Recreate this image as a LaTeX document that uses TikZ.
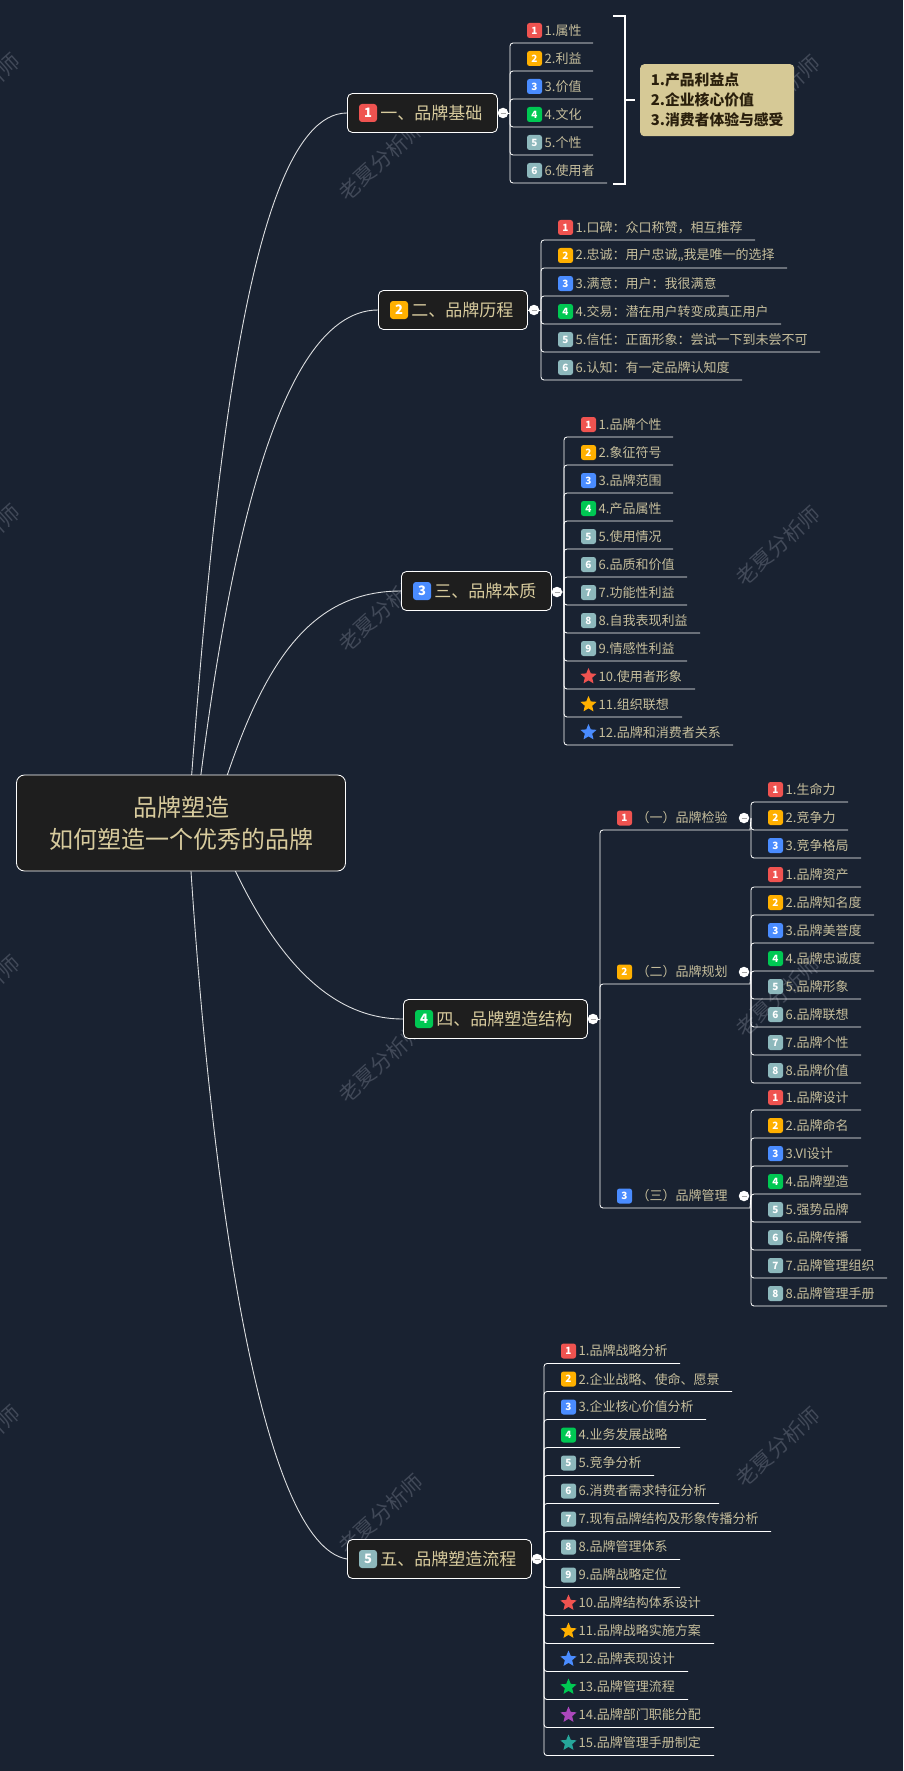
\documentclass[tikz,border=0pt]{standalone}
\usepackage{fontspec}
\setmainfont{Noto Sans CJK SC}
\usetikzlibrary{positioning, shapes.geometric, backgrounds}

\definecolor{navybg}{HTML}{192231}
\definecolor{boxdark}{HTML}{1E1E1E}
\definecolor{tantext}{HTML}{D8CB9D}
\definecolor{leafcol}{HTML}{C6BE9C}
\definecolor{notefill}{HTML}{D6C996}
\definecolor{notetext}{HTML}{2A1F0C}
\definecolor{markcol}{HTML}{414958}
\definecolor{tagred}{HTML}{EF5350}
\definecolor{tagamber}{HTML}{FFB000}
\definecolor{tagblue}{HTML}{4A8CFF}
\definecolor{taggreen}{HTML}{00C853}
\definecolor{tagslate}{HTML}{8DB8BC}
\definecolor{tagpurple}{HTML}{AB47BC}
\definecolor{tagteal}{HTML}{26A69A}

\newcommand{\leafrows}[5]{%
  \coordinate (#1hub) at (#2,#3);
  \foreach \tip/\lab [count=\k] in {#5} {
    \coordinate (#1tip\k) at (\tip, #4+28*\k-28);
    \draw[wire] (#1hub) |- (#1tip\k);
    \node[tag\k] (#1tag\k) at (#2+24.5, #4+28*\k-40.5) {\ifnum\k<10 \k\fi};
    \node[leaftext] (#1lab\k) at (#2+34.5, #4+28*\k-40.5) {\lab};
  }
}

\begin{document}
\begin{tikzpicture}[
    x=1pt, y=-1pt,
    rootbox/.style={draw=white, fill=boxdark, rounded corners=8pt, line width=.85pt, text=tantext, minimum width=329pt, minimum height=96pt, align=center, font=\fontsize{24}{32}\selectfont},
    branchbox/.style={draw=white, fill=boxdark, rounded corners=5pt, line width=.85pt, anchor=west, minimum height=39pt},
    branchtext/.style={text=tantext, inner sep=0pt, font=\fontsize{17}{20}\selectfont},
    bigtag/.style={rounded corners=3pt, minimum size=18pt, inner sep=0pt, text=white, font=\bfseries\fontsize{13}{13}\selectfont},
    numtag/.style={rectangle, rounded corners=2.5pt, minimum size=15pt, inner sep=0pt, text=white, font=\bfseries\fontsize{10}{10}\selectfont},
    startag/.style={star, star points=5, star point ratio=2.2, minimum size=17pt, inner sep=0pt},
    tag1/.style={numtag, fill=tagred},
    tag2/.style={numtag, fill=tagamber},
    tag3/.style={numtag, fill=tagblue},
    tag4/.style={numtag, fill=taggreen},
    tag5/.style={numtag, fill=tagslate},
    tag6/.style={tag5},
    tag7/.style={tag5},
    tag8/.style={tag5},
    tag9/.style={tag5},
    tag10/.style={startag, fill=tagred},
    tag11/.style={startag, fill=tagamber},
    tag12/.style={startag, fill=tagblue},
    tag13/.style={startag, fill=taggreen},
    tag14/.style={startag, fill=tagpurple},
    tag15/.style={startag, fill=tagteal},
    leaftext/.style={anchor=west, text=leafcol, inner sep=0pt, font=\fontsize{13}{16}\selectfont},
    wire/.style={draw=white, line width=.85pt, rounded corners=3pt},
    trunk/.style={draw=white!85!navybg, line width=.9pt},
    toggle/.style={circle, fill=white, minimum size=10.5pt, inner sep=0pt,
      path picture={\draw[black!35, line width=.9pt] ([xshift=-2.5pt]path picture bounding box.center) -- ([xshift=2.5pt]path picture bounding box.center);}},
    bracketline/.style={draw=white, line width=2pt},
    notebox/.style={fill=notefill, rounded corners=4pt, anchor=north west, minimum width=154pt, minimum height=72pt, inner xsep=10pt, inner ysep=0pt, align=left, text=notetext, font=\bfseries\fontsize{14.8}{20}\selectfont},
    watermark/.style={text=markcol, rotate=42, font=\fontsize{21}{21}\selectfont}
  ]
  \useasboundingbox (0,0) rectangle (903,1771);

  \node[rootbox] (root) at (181,823) {品牌塑造\\如何塑造一个优秀的品牌};

  % branch one
  \node[branchbox, minimum width=150pt] (brand1) at (347,113) {};
  \node[bigtag, fill=tagred] (brand1tag) at (368,113) {1};
  \node[branchtext, right=3pt of brand1tag] (brand1lab) {一、品牌基础};
  \leafrows{brand1}{510}{113}{43}{593/1.属性, 593/2.利益, 593/3.价值, 593/4.文化, 593/5.个性, 607/6.使用者}
  \draw[wire] (brand1) -- (brand1hub);
  \node[toggle] (brand1toggle) at (503,113) {};

  \coordinate (brackettop) at (613,16);
  \coordinate (bracketne) at (625,16);
  \coordinate (bracketse) at (625,184);
  \coordinate (bracketbot) at (613,184);
  \coordinate (bracketmid) at (625,100);
  \coordinate (bracketout) at (635,100);
  \draw[bracketline] (brackettop) -- (bracketne) -- (bracketse) -- (bracketbot);
  \draw[bracketline] (bracketmid) -- (bracketout);
  \node[notebox] (note) at (640,64) {1.产品利益点\\2.企业核心价值\\3.消费者体验与感受};

  % branch two
  \node[branchbox, minimum width=149pt] (brand2) at (378,310) {};
  \node[bigtag, fill=tagamber] (brand2tag) at (399,310) {2};
  \node[branchtext, right=3pt of brand2tag] (brand2lab) {二、品牌历程};
  \leafrows{brand2}{541}{310}{240}{755/1.口碑：众口称赞，相互推荐, {787/{2.忠诚：用户忠诚,,我是唯一的选择}}, 729/3.满意：用户：我很满意, 781/4.交易：潜在用户转变成真正用户, 820/5.信任：正面形象：尝试一下到未尝不可, 742/6.认知：有一定品牌认知度}
  \draw[wire] (brand2) -- (brand2hub);
  \node[toggle] (brand2toggle) at (534,310) {};

  % branch three
  \node[branchbox, minimum width=150pt] (brand3) at (401,591) {};
  \node[bigtag, fill=tagblue] (brand3tag) at (422,591) {3};
  \node[branchtext, right=3pt of brand3tag] (brand3lab) {三、品牌本质};
  \leafrows{brand3}{564}{592}{437}{673/1.品牌个性, 673/2.象征符号, 673/3.品牌范围, 673/4.产品属性, 673/5.使用情况, 687/6.品质和价值, 687/7.功能性利益, 700/8.自我表现利益, 687/9.情感性利益, 695/10.使用者形象, 682/11.组织联想, 733/12.品牌和消费者关系}
  \draw[wire] (brand3) -- (brand3hub);
  \node[toggle] (brand3toggle) at (557,592) {};

  % branch four, with three sub branches
  \node[branchbox, minimum width=184pt] (brand4) at (403,1019) {};
  \node[bigtag, fill=taggreen] (brand4tag) at (424,1019) {4};
  \node[branchtext, right=3pt of brand4tag] (brand4lab) {四、品牌塑造结构};
  \coordinate (brand4hub) at (600,1019);
  \draw[wire] (brand4) -- (brand4hub);
  \node[toggle] (brand4toggle) at (593,1019) {};

  \coordinate (check) at (750,830);
  \coordinate (plan) at (750,984);
  \coordinate (manage) at (750,1208);
  \draw[wire] (brand4hub) |- (check);
  \draw[wire] (brand4hub) |- (plan);
  \draw[wire] (brand4hub) |- (manage);

  \node[tag1] (checktag) at (624.5,818) {1};
  \node[leaftext] (checklab) at (636.5,818) {（一）品牌检验};
  \leafrows{check}{751}{818}{802}{848/1.生命力, 848/2.竞争力, 861/3.竞争格局}
  \draw[wire] (check) -- (checkhub);
  \node[toggle] (checktoggle) at (744,818) {};

  \node[tag2] (plantag) at (624.5,972) {2};
  \node[leaftext] (planlab) at (636.5,972) {（二）品牌规划};
  \leafrows{plan}{751}{972}{887}{861/1.品牌资产, 874/2.品牌知名度, 874/3.品牌美誉度, 874/4.品牌忠诚度, 861/5.品牌形象, 861/6.品牌联想, 861/7.品牌个性, 861/8.品牌价值}
  \draw[wire] (plan) -- (planhub);
  \node[toggle] (plantoggle) at (744,972) {};

  \node[tag3] (managetag) at (624.5,1196) {3};
  \node[leaftext] (managelab) at (636.5,1196) {（三）品牌管理};
  \leafrows{manage}{751}{1196}{1110}{861/1.品牌设计, 861/2.品牌命名, 848/3.VI设计, 861/4.品牌塑造, 861/5.强势品牌, 861/6.品牌传播, 887/7.品牌管理组织, 887/8.品牌管理手册}
  \draw[wire] (manage) -- (managehub);
  \node[toggle] (managetoggle) at (744,1196) {};

  % branch five
  \node[branchbox, minimum width=184pt] (brand5) at (347,1559) {};
  \node[bigtag, fill=tagslate] (brand5tag) at (368,1559) {5};
  \node[branchtext, right=3pt of brand5tag] (brand5lab) {五、品牌塑造流程};
  \leafrows{brand5}{544}{1559}{1363.5}{680/1.品牌战略分析, 732/2.企业战略、使命、愿景, 706/3.企业核心价值分析, 680/4.业务发展战略, 654/5.竞争分析, 719/6.消费者需求特征分析, 771/7.现有品牌结构及形象传播分析, 680/8.品牌管理体系, 680/9.品牌战略定位, 714/10.品牌结构体系设计, 714/11.品牌战略实施方案, 688/12.品牌表现设计, 688/13.品牌管理流程, 714/14.品牌部门职能分配, 714/15.品牌管理手册制定}
  \draw[wire] (brand5) -- (brand5hub);
  \node[toggle] (brand5toggle) at (537,1559) {};

  \coordinate (rootout1) at (188,823);
  \coordinate (rootout2) at (195,823);
  \coordinate (rootout3) at (212,823);
  \coordinate (rootout4) at (214,823);
  \coordinate (rootout5) at (188,823);

  \begin{pgfonlayer}{background}
    \fill[navybg] (0,0) rectangle (903,1771);
    \foreach \wx/\wy in {-22/93,-22/544,-22/995,-22/1445,381/161,381/612,381/1063,381/1514,778/95,778/546,778/997,778/1447} {
      \node[watermark] (mark\wx-\wy) at (\wx,\wy) {老夏分析师};
    }
    \draw[trunk] (rootout1) .. controls (208,560) and (240,113) .. (brand1.west);
    \draw[trunk] (rootout2) .. controls (220,610) and (268,310) .. (brand2.west);
    \draw[trunk] (rootout3) .. controls (255,680) and (300,591) .. (brand3.west);
    \draw[trunk] (rootout4) .. controls (254,920) and (310,1019) .. (brand4.west);
    \draw[trunk] (rootout5) .. controls (210,1200) and (262,1545) .. (brand5.west);
  \end{pgfonlayer}
\end{tikzpicture}
\end{document}
